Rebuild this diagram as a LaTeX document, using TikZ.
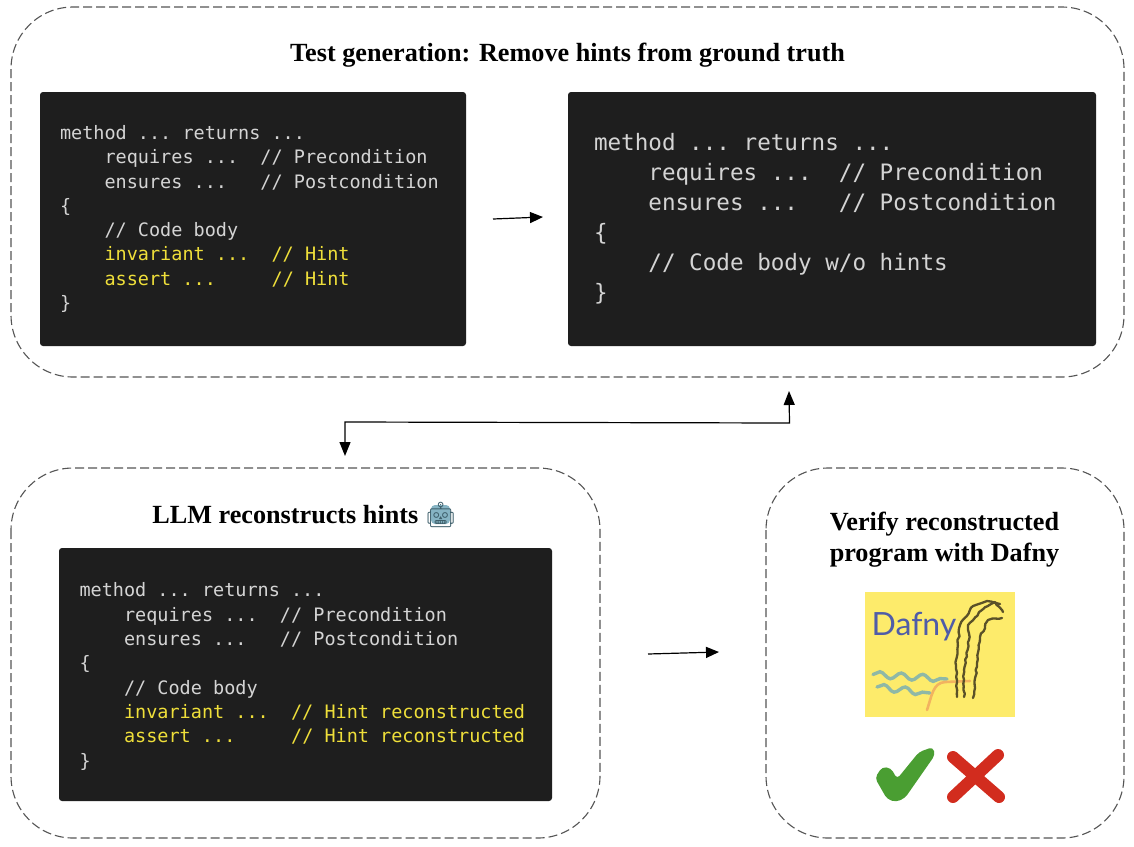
\documentclass[tikz,border=0pt]{standalone}
\usepackage{fontspec}
\usepackage{xcolor}
\usetikzlibrary{arrows.meta, positioning, calc, decorations.pathmorphing}
\setmainfont{Liberation Serif}
\newfontfamily\codefont{DejaVu Sans Mono}
\newfontfamily\emojifont{Noto Emoji}
\definecolor{codebg}{HTML}{1E1E1E}
\definecolor{codefg}{HTML}{D4D4D4}
\definecolor{hintfg}{HTML}{EFDF3A}
\definecolor{framegray}{HTML}{555555}
\definecolor{logoyellow}{HTML}{FDEB6B}
\definecolor{logoblue}{HTML}{4F5CA8}
\definecolor{logowave}{HTML}{8FB8A6}
\definecolor{logoorange}{HTML}{F2B35F}
\definecolor{logohair}{HTML}{5A5128}
\definecolor{okgreen}{HTML}{4A9E32}
\definecolor{badred}{HTML}{D22C1E}
\definecolor{robotcol}{HTML}{3E5F6B}
\definecolor{robotfill}{HTML}{86B4C4}
\newcommand{\codesize}[2]{\codefont\fontsize{#1}{#2}\selectfont\frenchspacing
   \spaceskip=0.602em \xspaceskip=0.602em\relax\ignorespaces}
\tikzset{>=Latex}

\begin{document}
\begin{tikzpicture}[x=1pt,y=-1pt]

   \tikzset{
      framebox/.style={
      draw=framegray, line width=1.1pt, dash pattern=on 9pt off 4pt,
      rounded corners=62pt
      },
      codebox/.style={
      fill=codebg, rounded corners=3pt, inner sep=0pt, text=codefg,
      align=left, anchor=center
      },
      titletext/.style={
      font=\fontsize{26.2}{31}\selectfont\bfseries, align=center
      },
      flow/.style={
      line width=1.2pt,
      -{Triangle[length=13pt,width=11pt]}
      },
      flowboth/.style={
      line width=1.2pt,
      {Triangle[length=14pt,width=11pt]}-{Triangle[length=14pt,width=11pt]}
      },
      ripple/.style={
      decorate,
      decoration={snake, amplitude=3.2pt, segment length=21.5pt},
      draw=logowave, line width=3.4pt, line cap=round
      },
      strand/.style={
      decorate,
      decoration={random steps, segment length=3.5pt, amplitude=0.9pt},
      draw=logohair, line width=2.3pt, line cap=round, line join=round
      }
   }

   \useasboundingbox (0,0) rectangle (1134,846);
   \fill[white] (0,0) rectangle (1134,846);

   % Rahmen
   \draw[framebox] (11,7) rectangle (1124,377);
   \draw[framebox] (11,468) rectangle (600,838);
   \draw[framebox] (766,468) rectangle (1124,838);

   % Titel
   \fill[robotfill, rounded corners=4pt] (431,505) rectangle (450,524);
   \node[titletext] (titleTest) at (567.5,55) {Test generation: Remove hints from ground truth};
   \node[titletext] (titleLLM) at (304.5,515) {LLM reconstructs hints {\emojifont\fontsize{25}{25}\selectfont\textcolor{robotcol}{\char"1F916}}};
   \node[titletext] (titleVerify) at (944.5,539.5) {Verify reconstructed\\program with Dafny};

   % Code
   \node[codebox, minimum width=426pt, minimum height=254pt, text width=386pt] (codeGround) at (253,219)
   {\codesize{18.5}{24.3}
   method ... returns ...\\
   ~~~~requires ...~~// Precondition\\
   ~~~~ensures ...~~~// Postcondition\\
   \{\\
   ~~~~// Code body\\
   ~~~~\textcolor{hintfg}{invariant ...~~// Hint}\\
   ~~~~\textcolor{hintfg}{assert ...~~~~~// Hint}\\
   \}\par};

   \node[codebox, minimum width=528pt, minimum height=254pt, text width=476pt] (codeStripped) at (832,219)
   {\codesize{22.6}{30}
   method ... returns ...\\
   ~~~~requires ...~~// Precondition\\
   ~~~~ensures ...~~~// Postcondition\\
   \{\\
   ~~~~// Code body w/o hints\\
   \}\par};

   \node[codebox, minimum width=493pt, minimum height=253pt, text width=452pt] (codeHints) at (305.5,674.5)
   {\codesize{18.5}{24.3}
   method ... returns ...\\
   ~~~~requires ...~~// Precondition\\
   ~~~~ensures ...~~~// Postcondition\\
   \{\\
   ~~~~// Code body\\
   ~~~~\textcolor{hintfg}{invariant ...~~// Hint reconstructed}\\
   ~~~~\textcolor{hintfg}{assert ...~~~~~// Hint reconstructed}\\
   \}\par\vspace{-4pt}};

   % Pfeile
   \coordinate (StripStart) at (493,219);
   \coordinate (StripEnd)   at (543,217);
   \coordinate (VerifyStart) at (648,654);
   \coordinate (VerifyEnd)   at (719,652);
   \coordinate (LoopLow)  at (345,456);
   \coordinate (LoopHigh) at (789,391);

   \draw[flow] (StripStart) -- (StripEnd);
   \draw[flow] (VerifyStart) -- (VerifyEnd);
   \draw[flowboth] (LoopLow) -- (345,422) -- (789.5,423) -- (LoopHigh);

   % Logo
   \fill[logoyellow] (864.5,592) rectangle (1015,716.5);
   \node[font=\fontsize{32}{32}\selectfont, text=logoblue, inner sep=0pt] (logoText) at (914,627) {\fontspec{Lato}Dafny};
   \draw[ripple] (873,674.5) -- (947,679);
   \draw[ripple] (877,687) -- (930,693);
   \draw[logoorange, line width=2.6pt, line cap=round]
   (927,710) .. controls (932,695) and (933,683) .. (945,682) -- (970,681);
   \draw[strand] (957,697) -- (957,680) -- (956,660) -- (960,625) -- (973,606) -- (987,601) -- (1000,604);
   \draw[strand] (964,697) -- (964,670) -- (969,640) -- (968,625) -- (982,610) -- (995,602) -- (1003,612);
   \draw[strand] (973,698) -- (977,663) -- (980,637) -- (988,620) -- (1002,618);

   % Haken und Kreuz
   \fill[okgreen, rounded corners=4pt]
   (875,778) -- (882,767) -- (891,768) -- (897,779) -- (919,752) -- (933,747) -- (935,755) -- (905,798) -- (896,802) -- (887,799) -- cycle;
   \draw[badred, line width=12pt, line cap=round] (953,757) -- (999,797);
   \draw[badred, line width=12pt, line cap=round] (998,755) -- (953,797);

\end{tikzpicture}
\end{document}
